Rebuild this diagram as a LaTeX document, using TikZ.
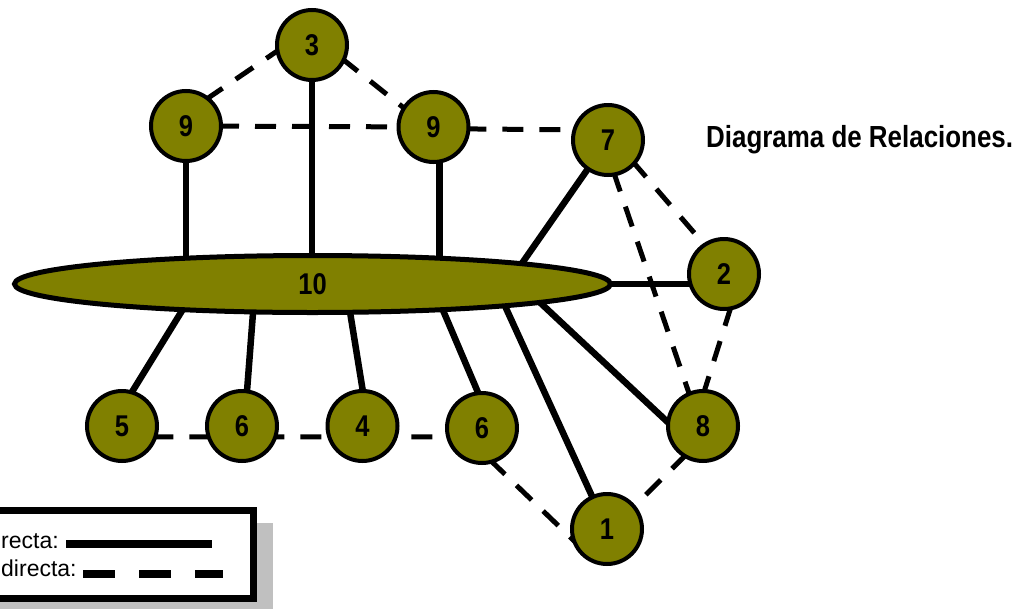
\documentclass[tikz,border=0pt]{standalone}
\usepackage{fontspec}
\setmainfont{Liberation Sans}
\newfontfamily\narrowsans[FakeStretch=0.85]{Liberation Sans}
\usetikzlibrary{shapes.geometric,shadows,backgrounds}
\definecolor{olivefill}{RGB}{128,128,0}
\definecolor{shadowgray}{RGB}{192,192,192}

\begin{document}
\begin{tikzpicture}[x=1pt,y=-1pt,
	numfont/.style={font=\narrowsans\bfseries\fontsize{30}{30}\selectfont},
	factor/.style={circle,draw,line width=4pt,fill=olivefill,minimum size=70pt,inner sep=0pt,numfont},
	hub/.style={ellipse,draw,line width=5pt,fill=olivefill,minimum width=596pt,minimum height=57pt,inner sep=0pt,numfont},
	direct/.style={line width=6.5pt,shorten <=-5pt,shorten >=-5pt},
	indirect/.style={line width=5pt,dash pattern=on 21pt off 16pt,shorten <=-5pt,shorten >=-5pt}]
	\useasboundingbox (0,0) rectangle (1022,608);
	% legend
	\node[draw,line width=7pt,fill=white,minimum width=273.5pt,minimum height=88pt,
		drop shadow={shadow xshift=19.5pt,shadow yshift=-12.5pt,fill=shadowgray,opacity=1}] (legend) at (116.75,554.5) {};
	\node[anchor=base west,inner sep=0pt,font=\fontsize{23}{23}\selectfont] (ldir) at (1,548) {recta:};
	\node[anchor=base west,inner sep=0pt,font=\fontsize{23}{23}\selectfont] (lind) at (1,576) {directa:};
	\draw[line width=8pt] (ldir.base west) ++(65,-4) -- ++(146,0);
	\draw[line width=8pt,dash pattern=on 32pt off 24pt] (lind.base west) ++(82,-2) -- ++(140,0);
	\node[anchor=base west,inner sep=0pt,font=\narrowsans\bfseries\fontsize{30.5}{30.5}\selectfont] (title) at (706,147) {Diagrama de Relaciones.};
	% factors
	\node[hub] (ell) at (312.5,284) {10};
	\node[factor] (n3) at (312,45) {3};
	\node[factor] (n9a) at (186,126) {9};
	\node[factor] (n9b) at (433.5,127) {9};
	\node[factor] (n7) at (608,140) {7};
	\node[factor] (n2) at (724,274) {2};
	\node[factor] (n8) at (703,426) {8};
	\node[factor] (n1) at (607,529) {1};
	\node[factor] (n5) at (122,426) {5};
	\node[factor] (n6a) at (242,426) {6};
	\node[factor] (n4) at (362.5,426) {4};
	\node[factor] (n6b) at (482,428) {6};
	\begin{scope}[on background layer]
		\path[direct]
		(n9a) edge (n9a |- ell)
		(n3) edge (n3 |- ell)
		([xshift=6pt]n9b.center) edge ([xshift=6pt]n9b |- ell)
		(n7) edge (ell.6)
		(ell.east) edge (ell.east -| n2)
		(ell.-5) edge (n8.172)
		(ell.-7) edge (n1)
		(ell.-12) edge (n6b.97)
		(ell.-39) edge (n4.north)
		(ell.207) edge (n6a.82)
		(ell.192) edge (n5.73);
		\path[indirect]
		(n9a.51) edge (n3.191)
		(n3.-26) edge (n9b.147)
		(n9a) edge (n9b)
		(n9b.-3) edge (n7.164)
		(n7.-42) edge (n2.124)
		(n7.-79) edge (n8.113)
		(n2.-81) edge (n8.87)
		(n8.-122) edge (n1.40)
		(n6b.-72) edge (n1.194)
		(n5.-17) edge (n6b.194);
	\end{scope}
\end{tikzpicture}
\end{document}
